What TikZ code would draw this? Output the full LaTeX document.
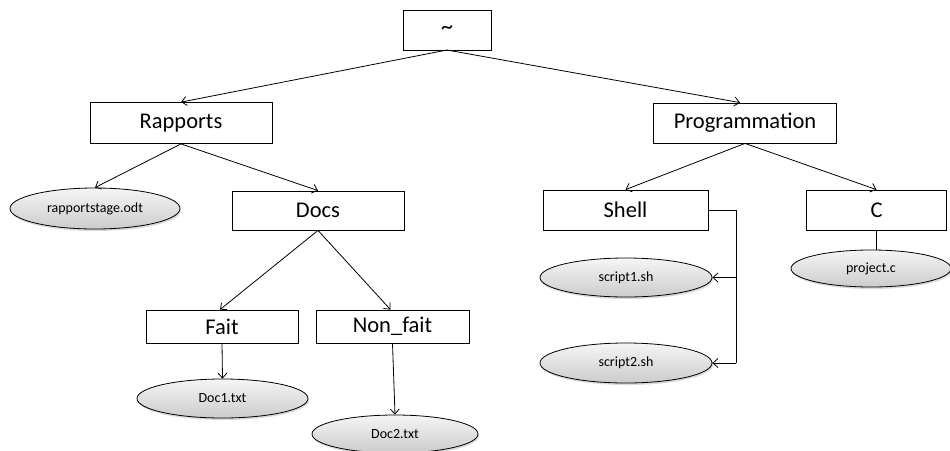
\documentclass[tikz,border=0pt]{standalone}
\usepackage{fontspec}
\setmainfont{Carlito}
\usetikzlibrary{arrows.meta,shadows,shapes.geometric}
\begin{document}
\begin{tikzpicture}[x=1pt,y=-1pt,
  box/.style={draw=black,thick,fill=white,rectangle,inner sep=0pt,font=\fontsize{22.5}{26}\selectfont},
  leaf/.style={draw=black,thick,ellipse,inner sep=0pt,top color=gray!8,bottom color=gray!40,
     drop shadow={shadow xshift=1pt,shadow yshift=-2pt,opacity=0.3},font=\fontsize{14}{16}\selectfont},
  link/.style={draw=black,line width=0.8pt,-{Straight Barb[length=5pt,width=9pt]}},
  plain/.style={draw=black,line width=0.8pt}]
\useasboundingbox (0,0) rectangle (950,450);
% boxes
\node[box,minimum width=88,minimum height=40] (root) at (447,30) {\raisebox{-5pt}{\fontsize{24}{26}\selectfont\textasciitilde}};
\node[box,minimum width=182,minimum height=41] (rap) at (181,123) {Rapports};
\node[box,minimum width=183,minimum height=40] (prog) at (745,123) {Programmation};
\node[box,minimum width=172,minimum height=39] (docs) at (318,210.5) {Docs};
\node[box,minimum width=165,minimum height=40] (shell) at (625.5,210) {Shell};
\node[box,minimum width=140,minimum height=40] (c) at (876.5,210) {C};
\node[box,minimum width=152,minimum height=33] (fait) at (222,326.5) {Fait};
\node[box,minimum width=153,minimum height=33] (nonfait) at (392.5,326.5) {Non\_fait};
% leaves
\node[leaf,minimum width=170,minimum height=41] (rstage) at (95,208.5) {rapportstage.odt};
\node[leaf,minimum width=172,minimum height=39] (s1) at (626,277.5) {script1.sh};
\node[leaf,minimum width=172,minimum height=40] (s2) at (626,363) {script2.sh};
\node[leaf,minimum width=160,minimum height=37] (projc) at (871,268.5) {project.c};
\node[leaf,minimum width=171,minimum height=39] (doc1) at (222.5,398.5) {Doc1.txt};
\node[leaf,minimum width=166,minimum height=38] (doc2) at (395,434) {Doc2.txt};
% connectors
\coordinate (rootb) at (447,50);
\draw[link] (rootb) -- (rap.north);
\draw[link] (rootb) -- ([xshift=-5]prog.north);
\draw[link] (rap.south) -- (rstage.north);
\draw[link] (rap.south) -- (docs.north);
\draw[link] (docs.south) -- ([xshift=-2]fait.north);
\draw[link] (docs.south) -- ([xshift=-2]nonfait.north);
\draw[link] (fait.south) -- (doc1.north);
\draw[link] (nonfait.south) -- (doc2.north);
\draw[link] (prog.south) -- (shell.north);
\draw[link] (prog.south) -- (c.north);
\coordinate (bend) at (736,210);
\draw[plain] (shell.east) -- (bend) -- (bend |- s2.east);
\draw[link] (bend |- s1.east) -- (s1.east);
\draw[link] (bend |- s2.east) -- (s2.east);
\draw[plain] (c.south) -- (c.south |- projc.north);
\end{tikzpicture}
\end{document}
